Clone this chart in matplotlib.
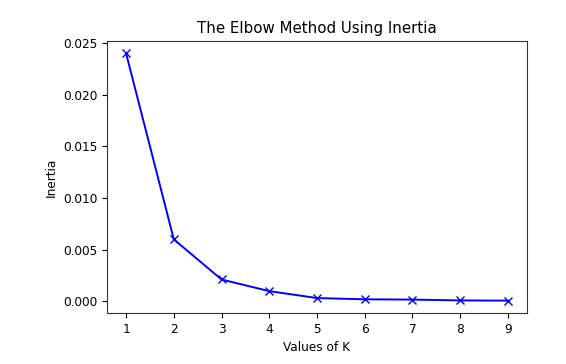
import matplotlib
matplotlib.use("Agg")
import matplotlib.pyplot as plt

# valores
valores_k = [1, 2, 3, 4, 5, 6, 7, 8, 9]
inercia = [0.02403, 0.00599, 0.00210, 0.00097, 0.00030, 0.00018, 0.00015, 0.00007, 0.00005]

fig = plt.figure(figsize=(5.66, 3.64), dpi=100)
ax = fig.add_axes([107 / 566, 1 - 313 / 364, 420 / 566, 272 / 364])

ax.plot(valores_k, inercia, 'bx-', linewidth=1.4)
ax.set_xlabel('Values of K', fontsize=8.7)
ax.set_ylabel('Inertia', fontsize=8.7)
ax.set_title('The Elbow Method Using Inertia', fontsize=10.8)
ax.tick_params(labelsize=8.7)
for lado in ax.spines.values():
    lado.set_edgecolor('#333333')

plt.savefig('out.png', dpi=100)
